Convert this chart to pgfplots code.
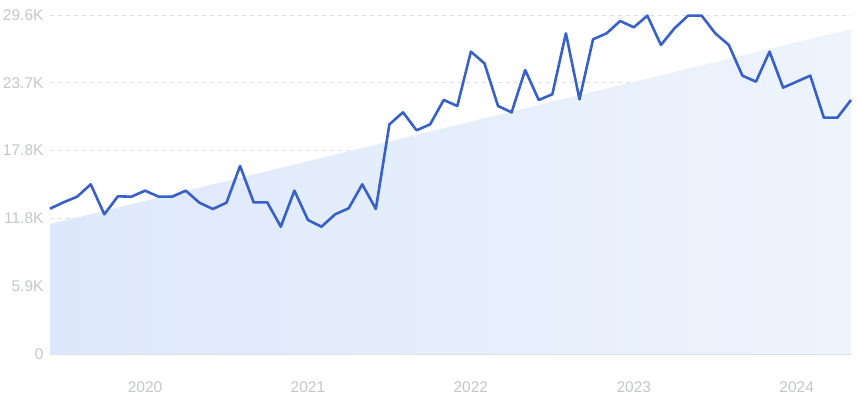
\documentclass[border=0pt]{standalone}
\usepackage{pgfplots}
\pgfplotsset{compat=1.18}
\usepackage{fontspec}
\setmainfont{Liberation Sans}
\usetikzlibrary{calc}
\definecolor{linec}{HTML}{3760C8}
\definecolor{gridc}{HTML}{DCDFE5}
\definecolor{labc}{HTML}{C4C6CA}
\definecolor{fillL}{HTML}{DDE8FA}
\definecolor{fillR}{HTML}{EEF4FD}
\begin{document}
\begin{tikzpicture}
\begin{axis}[
  name=ax,
  scale only axis,
  width=801bp, height=339bp,
  xmin=0, xmax=59,
  ymin=0, ymax=29600,
  scaled y ticks=false,
  axis line style={draw=none},
  clip=false,
  xtick={7,19,31,43,55},
  xticklabels={2020,2021,2022,2023,2024},
  ytick={0,5920,11840,17760,23680,29600},
  yticklabels={0,5.9K,11.8K,17.8K,23.7K,29.6K},
  tick style={draw=none},
  ticklabel style={font=\fontsize{15.5bp}{17bp}\selectfont, text=labc},
  yticklabel style={xshift=-3bp},
  xticklabel style={yshift=-24bp},
  ymajorgrids,
  grid style={gridc, line width=0.6pt, dash pattern=on 4bp off 4bp},
]
\addplot[draw=none, left color=fillL, right color=fillR] coordinates {(0,0) (0,11350) (59,28380) (59,0)} --cycle;
\draw[gridc, line width=0.8pt] (axis cs:0,0) -- (axis cs:59,0);
\addplot[linec, line width=2.6bp, line join=round, mark=none] coordinates {
(0,12688) (1,13245) (2,13737) (3,14815) (4,12196) (5,13766) (6,13737) (7,14262) (8,13737) (9,13737)
(10,14262) (11,13213) (12,12661) (13,13213) (14,16416) (15,13245) (16,13245) (17,11116) (18,14262) (19,11701)
(20,11116) (21,12196) (22,12720) (23,14815) (24,12661) (25,20054) (26,21100) (27,19531) (28,20054) (29,22180)
(30,21655) (31,26400) (32,25380) (33,21655) (34,21100) (35,24799) (36,22180) (37,22675) (38,28000) (39,22238)
(40,27477) (41,28000) (42,29078) (43,28525) (44,29543) (45,26983) (46,28438) (47,29543) (48,29543) (49,28000)
(50,26983) (51,24304) (52,23780) (53,26400) (54,23256) (55,23780) (56,24304) (57,20637) (58,20637) (59,22180)
};
\end{axis}
\pgfresetboundingbox
\path[use as bounding box] ($(ax.south west)+(-50bp,-46bp)$) rectangle ($(ax.north east)+(9bp,15bp)$);
\end{tikzpicture}
\end{document}
